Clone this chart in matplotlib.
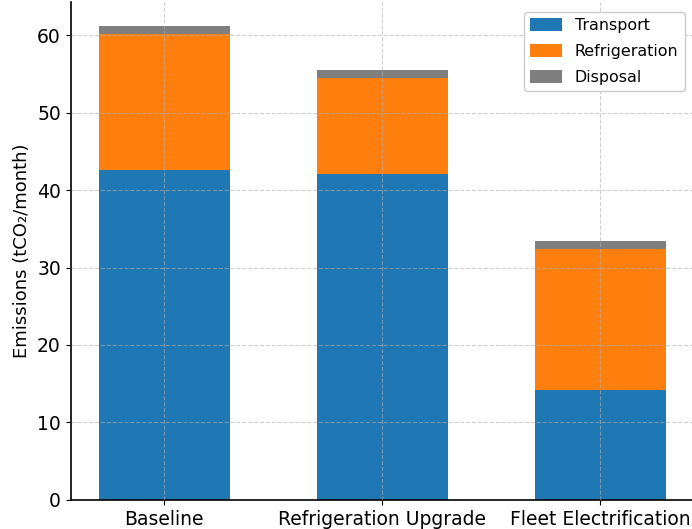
import matplotlib.pyplot as plt
import numpy as np

scenarios = ["Baseline", "Refrigeration Upgrade", "Fleet Electrification"]
transport = [42.6, 42.1, 14.2]
refrigeration = [17.6, 12.4, 18.2]
disposal = [1.0, 1.0, 1.0]

x = np.arange(len(scenarios))
bottom2 = np.array(transport) + np.array(refrigeration)

fig = plt.figure(figsize=(6.92, 5.29), dpi=100)
ax = fig.add_axes([0.102, 0.055, 0.901, 0.941])

ax.bar(x, transport, width=0.6, color="#1f77b4", label="Transport")
ax.bar(x, refrigeration, width=0.6, bottom=transport, color="#ff7f0e", label="Refrigeration")
ax.bar(x, disposal, width=0.6, bottom=bottom2, color="#7f7f7f", label="Disposal")

ax.set_xticks(x)
ax.set_xticklabels(scenarios, fontsize=13.5)
ax.tick_params(axis="y", labelsize=13.5)
ax.set_ylabel("Emissions (tCO₂/month)", fontsize=13)
ax.set_yticks([0, 10, 20, 30, 40, 50, 60])

ax.grid(True, linestyle="--", color="#b0b0b0", alpha=0.6, linewidth=0.8)
ax.set_axisbelow(False)
ax.spines["top"].set_visible(False)
ax.spines["right"].set_visible(False)
ax.spines["left"].set_linewidth(1.2)
ax.spines["bottom"].set_linewidth(1.2)

ax.legend(loc="upper right", fontsize=11.4, framealpha=1, edgecolor="#cccccc",
          labelspacing=0.7, handleheight=0.85, borderaxespad=0.6)

fig.savefig("out.png", dpi=100)
